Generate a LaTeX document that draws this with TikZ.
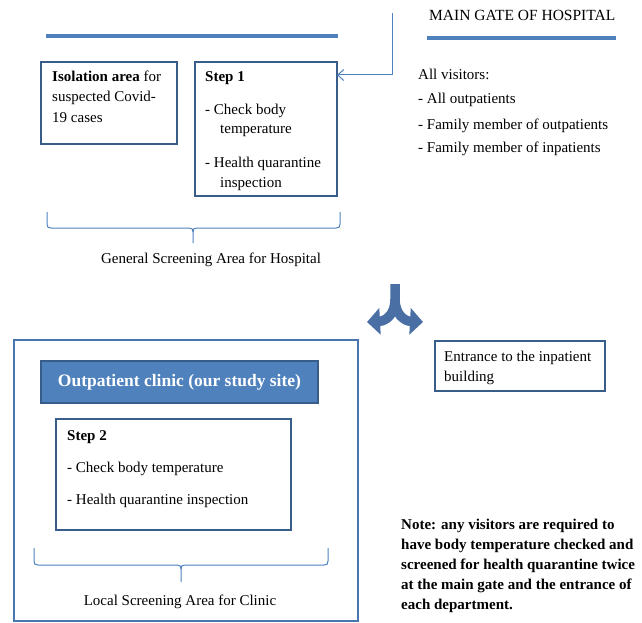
\documentclass[tikz,border=0pt]{standalone}
\usepackage{fontspec}
\setmainfont{Liberation Serif}
\usetikzlibrary{arrows.meta}
\definecolor{lineblue}{HTML}{4F81BD}
\definecolor{boxblue}{HTML}{385D8A}
\definecolor{forkblue}{HTML}{4A6FA5}
\definecolor{bigblue}{HTML}{4A76B0}
\newcommand\fs{\fontsize{15}{18}\selectfont}
\tikzset{
  boxs/.style={draw=boxblue, line width=2.5pt, anchor=north west, outer sep=0pt, inner sep=0pt},
  txt/.style={anchor=base west, inner sep=0pt, font=\fs},
  ctxt/.style={anchor=base, inner sep=0pt, font=\fs},
  bar/.style={draw=lineblue, line width=4pt},
  brace/.style={draw=lineblue, line width=1pt},
  conn/.style={draw=lineblue, line width=1pt, -{Straight Barb[length=6pt,width=11pt]}},
  fork/.style={draw=forkblue, line width=9.5pt, -{Triangle[length=13pt,width=26pt]}}
}
\begin{document}
\begin{tikzpicture}[x=1pt,y=-1pt]
\useasboundingbox (0,0) rectangle (642,623);
% top headings
\node[txt, font=\fontsize{15.5}{18}\selectfont] (gate) at (429,21) {MAIN GATE OF HOSPITAL};
\draw[bar] (46,36) -- (338,36);
\draw[bar] (427,38) -- (616,38);
% boxes of general screening
\node[boxs, minimum width=136pt, minimum height=82pt] (iso) at (41,62) {};
\node[boxs, minimum width=142pt, minimum height=134pt] (step1) at (195,62) {};
\node[txt] (iso1) at (52,82) {\textbf{Isolation area} for};
\node[txt] (iso2) at (52,102) {suspected Covid-};
\node[txt] (iso3) at (52,122) {19 cases};
\node[txt] (s1a) at (205,82) {\textbf{Step 1}};
\node[txt] (s1b) at (205,114) {- Check body};
\node[txt] (s1c) at (220,134) {temperature};
\node[txt] (s1d) at (205,167) {- Health quarantine};
\node[txt] (s1e) at (220,187) {inspection};
% connector from main gate
\coordinate (gtop) at (392,13);
\coordinate (gbend) at (392,75);
\draw[conn] (gtop) -- (gbend) -- (gbend -| step1.east);
% visitors
\node[txt] (v0) at (418,80) {All visitors:};
\node[txt] (v1) at (418,104) {- All outpatients};
\node[txt] (v2) at (418,129) {- Family member of outpatients};
\node[txt] (v3) at (418,153) {- Family member of inpatients};
% brace 1
\draw[brace] (47,212) -- (47,224) .. controls (47,227) and (48,228) .. (51,228) -- (189,228)
  .. controls (192,228) and (193,229) .. (193,232) -- (193,243);
\draw[brace] (193,232) .. controls (193,229) and (194,228) .. (197,228) -- (336,228)
  .. controls (339,228) and (340,227) .. (340,224) -- (340,212);
\node[ctxt] (gen) at (211,263) {General Screening Area for Hospital};
% fork arrow
\draw[fork] (395,284) -- (395,300) .. controls (395,314) and (386,321) .. (367,322);
\draw[fork] (395,299) .. controls (395,314) and (404,321) .. (423,322);
% clinic
\node[anchor=north west, outer sep=0pt, draw=bigblue, line width=2pt, minimum width=344pt, minimum height=281pt] (clinic) at (14,340) {};
\node[anchor=north west, outer sep=0pt, draw=boxblue, line width=2pt, fill=lineblue, minimum width=277pt, minimum height=42pt, text=white, font=\bfseries\fontsize{17.5}{20}\selectfont] (opc) at (41,361) {Outpatient clinic (our study site)};
\node[boxs, minimum width=235pt, minimum height=111pt] (step2) at (56,419) {};
\node[txt] (s2a) at (67,440) {\textbf{Step 2}};
\node[txt] (s2b) at (67,472) {- Check body temperature};
\node[txt] (s2c) at (67,504) {- Health quarantine inspection};
% brace 2
\draw[brace] (34,548) -- (34,561) .. controls (34,564) and (35,565) .. (38,565) -- (177,565)
  .. controls (180,565) and (181,566) .. (181,569) -- (181,582);
\draw[brace] (181,569) .. controls (181,566) and (182,565) .. (185,565) -- (324,565)
  .. controls (327,565) and (328,564) .. (328,561) -- (328,548);
\node[ctxt] (loc) at (180,605) {Local Screening Area for Clinic};
% entrance
\node[boxs, minimum width=170pt, minimum height=50pt] (ent) at (435,341) {};
\node[txt] (e1) at (444,361) {Entrance to the inpatient};
\node[txt] (e2) at (444,381) {building};
% note
\node[txt, font=\fs\bfseries] (n1) at (401,529) {Note: any visitors are required to};
\node[txt, font=\fs\bfseries] (n2) at (401,549) {have body temperature checked and};
\node[txt, font=\fs\bfseries] (n3) at (401,569) {screened for health quarantine twice};
\node[txt, font=\fs\bfseries] (n4) at (401,589) {at the main gate and the entrance of};
\node[txt, font=\fs\bfseries] (n5) at (401,609) {each department.};
\end{tikzpicture}
\end{document}
